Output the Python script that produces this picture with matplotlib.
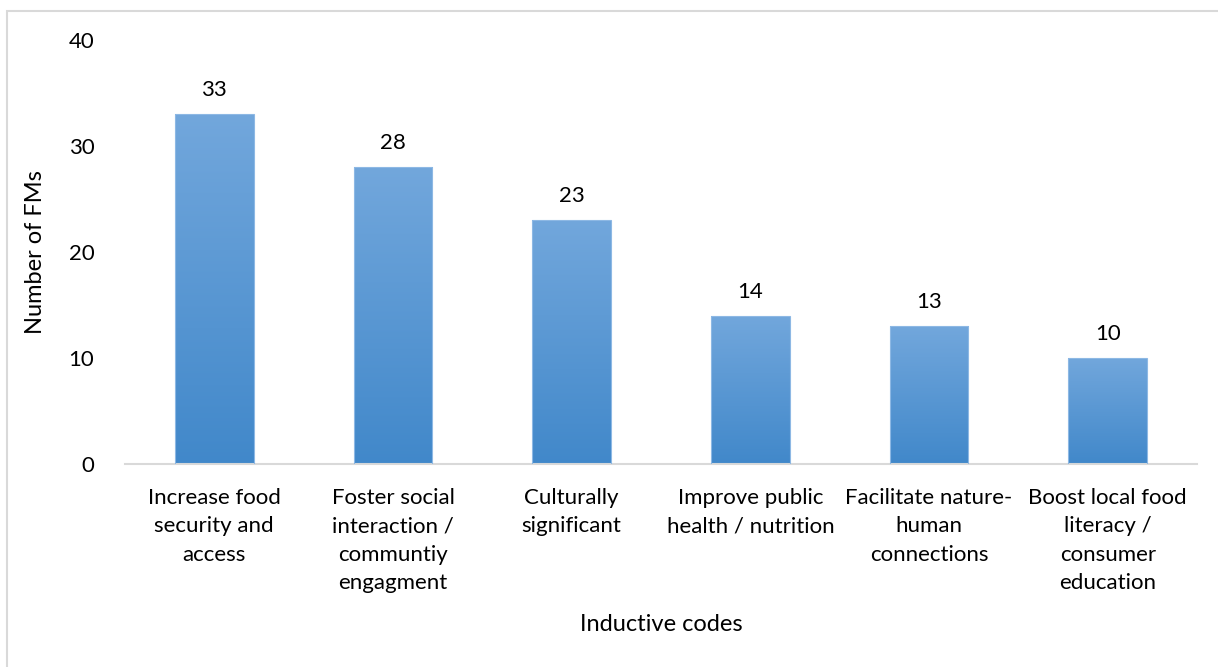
import numpy as np
import matplotlib.pyplot as plt
from matplotlib.colors import LinearSegmentedColormap
from matplotlib.patches import Rectangle

plt.rcParams['font.family'] = ['Lato', 'DejaVu Sans']

# data
categories = [
    'Increase food\nsecurity and\naccess',
    'Foster social\ninteraction /\ncommuntiy\nengagment',
    'Culturally\nsignificant',
    'Improve public\nhealth / nutrition',
    'Facilitate nature-\nhuman\nconnections',
    'Boost local food\nliteracy /\nconsumer\neducation',
]
counts = [33, 28, 23, 14, 13, 10]
y_ticks = [0, 10, 20, 30, 40]

fig = plt.figure(figsize=(12.18, 6.67), dpi=100)
ax = fig.add_axes([0.1026, 0.3043, 0.8802, 0.6357])

x = np.arange(len(categories))
bars = ax.bar(x, counts, width=0.44, color='none', edgecolor='#8db8e4', linewidth=0.8, zorder=3)

# vertical gradient fill like the office chart
grad = LinearSegmentedColormap.from_list('g', ['#4188ca', '#72a7dc'])
for b in bars:
    im = ax.imshow(np.linspace(0, 1, 256).reshape(-1, 1), cmap=grad, aspect='auto',
                   origin='lower', extent=[b.get_x(), b.get_x() + b.get_width(), 0, b.get_height()],
                   zorder=2)
    im.set_clip_path(b)

for xi, v in zip(x, counts):
    ax.text(xi, v + 1.3, str(v), ha='center', va='bottom', fontsize=16)

ax.set_xlim(-0.5, len(categories) - 0.5)
ax.set_ylim(0, 40)
ax.set_yticks(y_ticks)
ax.set_xticks(x)
ax.set_xticklabels(categories, fontsize=16, linespacing=1.53, va='top')
ax.tick_params(axis='both', length=0, labelsize=16)
ax.tick_params(axis='x', pad=17)
ax.tick_params(axis='y', pad=22)

for s in ['top', 'right', 'left']:
    ax.spines[s].set_visible(False)
ax.spines['bottom'].set_color('#d9d9d9')
ax.spines['bottom'].set_linewidth(1.5)

ax.set_xlabel('Inductive codes', fontsize=17, labelpad=15)
ax.set_ylabel('Number of FMs', fontsize=17, labelpad=16)

# outer chart border
fig.patches.append(Rectangle((7 / 1218, -0.1), 1.2, (1 - 11 / 667) + 0.1, transform=fig.transFigure,
                             fill=False, edgecolor='#d9d9d9', linewidth=1.5))

fig.savefig('out.png', dpi=100)
